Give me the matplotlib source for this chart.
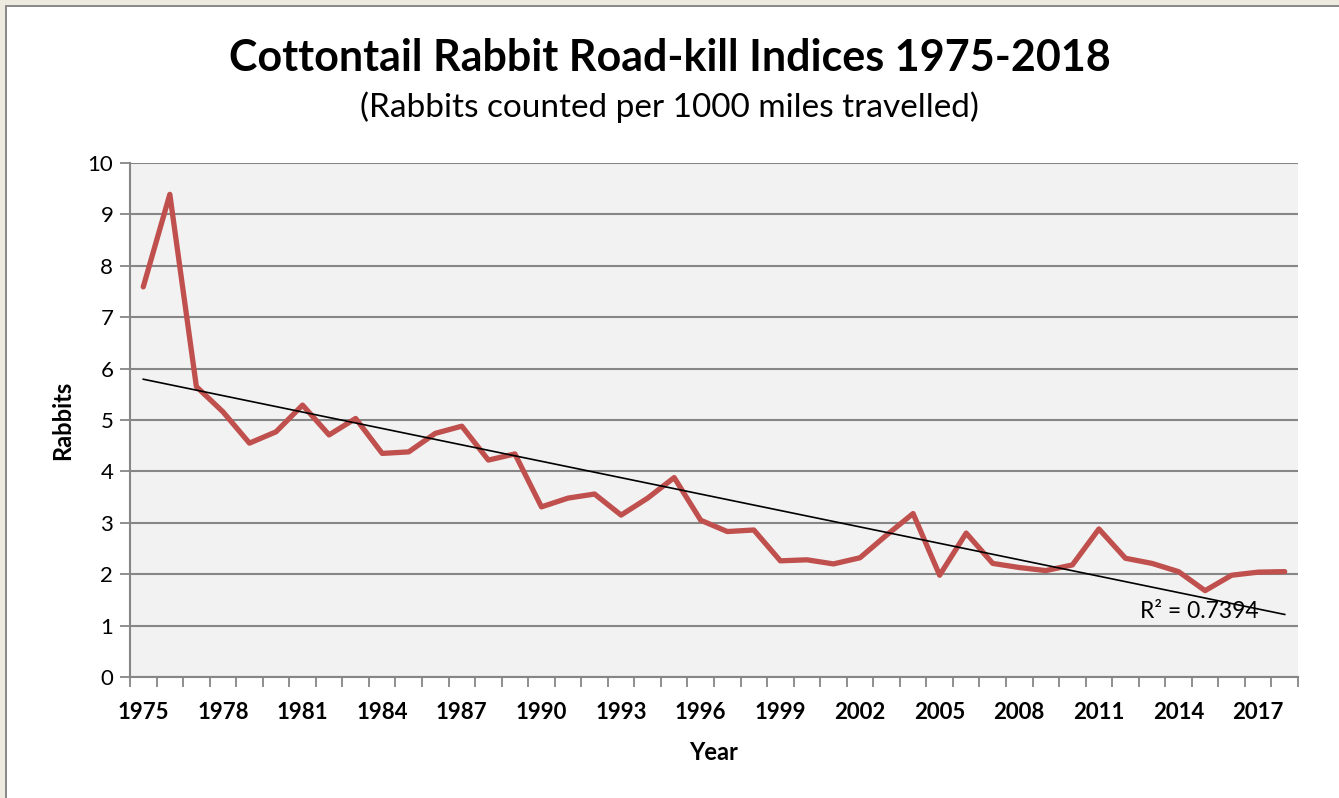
#!/usr/bin/env python3

import numpy as np
import matplotlib.pyplot as plt
from matplotlib.patches import Rectangle

years = list(range(1975, 2019))
rabbits = [7.59, 9.39, 5.65, 5.16, 4.55, 4.77, 5.29, 4.71, 5.03, 4.35,
           4.38, 4.74, 4.88, 4.22, 4.34, 3.31, 3.48, 3.56, 3.15, 3.48,
           3.88, 3.05, 2.83, 2.86, 2.26, 2.28, 2.20, 2.32, 2.76, 3.18,
           1.98, 2.80, 2.21, 2.13, 2.07, 2.18, 2.88, 2.31, 2.21, 2.05,
           1.68, 1.98, 2.04, 2.05]
r2_label = 'R² = 0.7394'

FONT = 'Lato'
GRID = '#868686'

fig = plt.figure(figsize=(13.39, 7.98), dpi=100)
fig.patch.set_facecolor('white')

# beige window frame at the top and left edges
W, H = 1339, 798
fig.patches.append(Rectangle((0, 0), 5 / W, 1, transform=fig.transFigure,
                             facecolor='#EDEADF', edgecolor='none'))
fig.patches.append(Rectangle((0, 1 - 5 / H), 1, 5 / H, transform=fig.transFigure,
                             facecolor='#EDEADF', edgecolor='none'))
fig.patches.append(Rectangle((5 / W, 0), 2 / W, 1 - 5 / H, transform=fig.transFigure,
                             facecolor='#8A8A8A', edgecolor='none'))
fig.patches.append(Rectangle((5 / W, 1 - 7 / H), 1, 2 / H, transform=fig.transFigure,
                             facecolor='#8A8A8A', edgecolor='none'))

ax = fig.add_axes([130 / W, 1 - 677 / H, (1298 - 130) / W, (677 - 163) / H])
ax.set_facecolor('#F2F2F2')

x = np.arange(len(years))
ax.plot(x, rabbits, color='#C0504D', linewidth=3.8, solid_joinstyle='round',
        solid_capstyle='round', zorder=3)

# linear trend line
coef = np.polyfit(x, rabbits, 1)
ax.plot(x, np.polyval(coef, x), color='black', linewidth=1.2, zorder=4)
ax.text(x[-1] - 1.0, np.polyval(coef, x[-1]) + 0.05, r2_label, ha='right', va='center',
        fontsize=16.5, family=FONT, zorder=5)

ax.set_xlim(-0.5, len(years) - 0.5)
ax.set_ylim(0, 10)
ax.set_yticks(range(0, 11))
ax.yaxis.grid(True, color=GRID, linewidth=1.5)
ax.set_axisbelow(True)

ax.set_xticks(x[::3])
ax.set_xticklabels([str(y) for y in years[::3]], fontsize=16, fontweight='bold', family=FONT)
ax.set_xticks(np.arange(-0.5, len(years)), minor=True)
ax.tick_params(axis='x', which='major', length=0, pad=18)
ax.tick_params(axis='x', which='minor', length=7, width=1.3, color=GRID)
ax.tick_params(axis='y', length=7, width=1.3, color=GRID, pad=5, labelsize=16)
for lab in ax.get_yticklabels():
    lab.set_family(FONT)

for side in ['top', 'right']:
    ax.spines[side].set_visible(False)
for side in ['left', 'bottom']:
    ax.spines[side].set_color(GRID)
    ax.spines[side].set_linewidth(1.5)

ax.set_ylabel('Rabbits', fontsize=17, fontweight='bold', family=FONT, labelpad=10)
ax.set_xlabel('Year', fontsize=17, fontweight='bold', family=FONT, labelpad=13)

fig.text(0.5, 1 - 58 / H, 'Cottontail Rabbit Road-kill Indices 1975-2018', ha='center',
         va='center', fontsize=31, fontweight='bold', family=FONT)
fig.text(0.5, 1 - 107 / H, '(Rabbits counted per 1000 miles travelled)', ha='center',
         va='center', fontsize=24, family=FONT)

fig.savefig('out.png', dpi=100)
